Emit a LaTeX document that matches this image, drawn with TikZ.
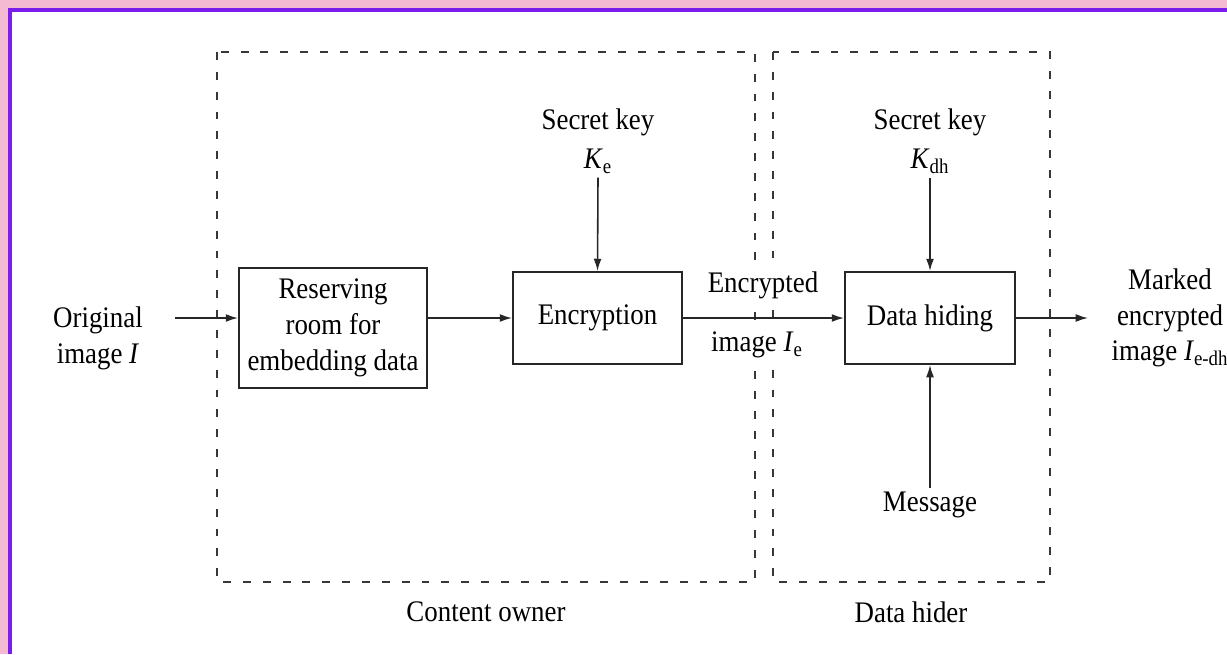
\documentclass[tikz,border=0pt]{standalone}
\usepackage{fontspec}
\setmainfont[FakeStretch=0.9]{Liberation Serif}
\usepackage{tikz}
\usetikzlibrary{arrows.meta}

\definecolor{framepink}{RGB}{243,186,210}
\definecolor{framepurple}{RGB}{122,28,234}
\definecolor{dashgray}{RGB}{55,55,55}

\begin{document}
\begin{tikzpicture}[x=0.02cm, y=-0.02cm, line width=0.9pt,
    font=\fontsize{17}{20.4}\selectfont,
    blockbox/.style={draw=black!85, line width=1.1pt, align=center, inner sep=0pt},
    txtlabel/.style={align=center, inner sep=2pt},
    partbox/.style={draw=dashgray, line width=1.2pt, dash pattern=on 4.5pt off 6.8pt},
    flow/.style={-{Latex[length=7pt,width=4.5pt]}, draw=black!85}]
    \useasboundingbox (0, 0) rectangle (1227, 654);

    % draw frame
    \fill[framepink] (0, 0) rectangle (1227, 654);
    \fill[framepurple] (8, 8) rectangle (1227, 654);
    \fill[white] (12, 12) rectangle (1227, 654);

    % draw dashed parts
    \draw[partbox] (217, 52) rectangle (755, 582);
    \draw[partbox] (773, 52) rectangle (1050, 582);
    \node[txtlabel] (owner) at (486, 612) {Content owner};
    \node[txtlabel] (hider) at (911, 612) {Data hider};

    % draw blocks
    \node[blockbox, minimum width=3.76cm, minimum height=2.4cm] (reserve) at (333, 328)
      {Reserving\\room for\\embedding data};
    \node[blockbox, minimum width=3.38cm, minimum height=1.84cm] (encrypt) at (597.5, 318)
      {Encryption};
    \node[blockbox, minimum width=3.4cm, minimum height=1.84cm] (hiding) at (930, 318)
      {Data hiding};

    % draw labels
    \node[txtlabel] (orig) at (98, 338) {Original\\image \textit{I}};
    \node[txtlabel] (keye) at (598, 141) {Secret key\\[2pt]\textit{K}\textsubscript{e}};
    \node[txtlabel] (keydh) at (930, 141) {Secret key\\[2pt]\textit{K}\textsubscript{dh}};
    \node[txtlabel, fill=white] (encup) at (763, 285) {Encrypted};
    \node[txtlabel, fill=white] (encdown) at (757, 345) {image \textit{I}\textsubscript{e}};
    \node[txtlabel] (msg) at (930, 505) {Message};
    \node[txtlabel] (marked) at (1170, 318) {Marked\\encrypted\\image \textit{I}\textsubscript{e-dh}};
    \coordinate (instart) at (175, 318);
    \coordinate (outend) at (1088, 318);

    % draw arrows
    \draw[flow] (instart) -- (instart -| reserve.west);
    \draw[flow] (reserve.east |- encrypt.west) -- (encrypt.west);
    \draw[flow] (encrypt.east) -- (hiding.west);
    \draw[flow] (keye.south) -- (encrypt.north);
    \draw[flow] (keydh.south) -- (hiding.north);
    \draw[flow] (msg.north) -- (hiding.south);
    \draw[flow] (hiding.east) -- (outend);

\end{tikzpicture}
\end{document}
